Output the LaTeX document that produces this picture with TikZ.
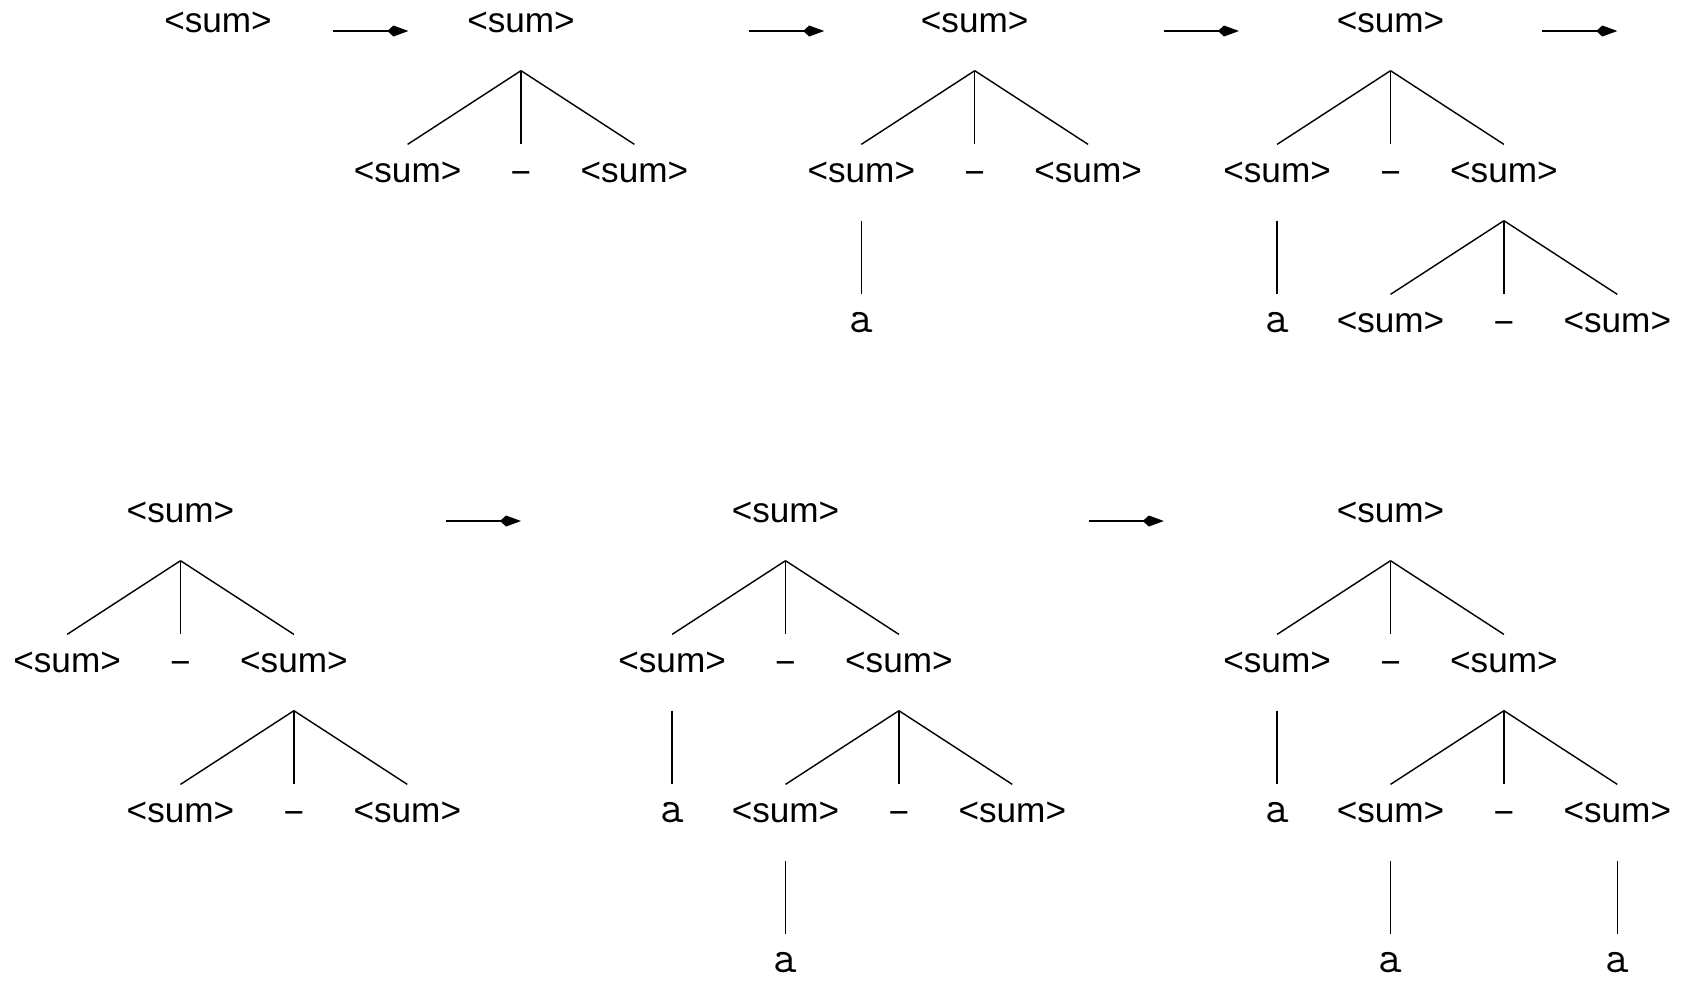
\documentclass[tikz,border=0pt]{standalone}
\usepackage{fontspec}
\setmainfont{Liberation Sans}
\usetikzlibrary{arrows.meta}

\newcommand{\op}{\raisebox{-0.7pt}{−}}

\begin{document}
\begin{tikzpicture}[
  x=0.01cm, y=-0.01cm,
  every node/.style={font=\normalsize},
  sym/.style={inner sep=0pt, text height=10.5pt, text depth=10.8pt, anchor=base},
  term/.style={sym, font=\fontsize{13pt}{15pt}\selectfont\ttfamily},
  branch/.style={line width=0.4pt},
  derive/.style={-{Kite[length=2.1mm, width=1.1mm, inset=0.6mm]},
                 line width=0.4pt}
]
\useasboundingbox (0,0) rectangle (1685,981);

%% ── START SYMBOL ────────────────────────────────────────────────
\node[sym] (s0) at (218,32) {<sum>};

%% ── STEP 1: sum -> sum - sum ────────────────────────────────────
\node[sym] (t1r) at (521,32)   {<sum>};
\node[sym] (t1l) at (407.6,182) {<sum>};
\node[sym] (t1m) at (521,182)  {\op};
\node[sym] (t1x) at (634.4,182) {<sum>};
\draw[branch] (t1r.south) -- (t1l.north);
\draw[branch] (t1r.south) -- (t1m.north);
\draw[branch] (t1r.south) -- (t1x.north);

%% ── STEP 2: left sum -> a ───────────────────────────────────────
\node[sym] (t2r) at (974.7,32)   {<sum>};
\node[sym] (t2l) at (861.3,182)  {<sum>};
\node[sym] (t2m) at (974.7,182)  {\op};
\node[sym] (t2x) at (1088.1,182) {<sum>};
\node[term] (t2la) at (861.3,332) {a};
\draw[branch] (t2r.south) -- (t2l.north);
\draw[branch] (t2r.south) -- (t2m.north);
\draw[branch] (t2r.south) -- (t2x.north);
\draw[branch] (t2l.south) -- (t2la.north);

%% ── STEP 3: right sum -> sum - sum ──────────────────────────────
\node[sym] (t3r) at (1390.5,32)  {<sum>};
\node[sym] (t3l) at (1277.1,182) {<sum>};
\node[sym] (t3m) at (1390.5,182) {\op};
\node[sym] (t3x) at (1503.9,182) {<sum>};
\node[term] (t3la) at (1277.1,332) {a};
\node[sym] (t3xl) at (1390.5,332) {<sum>};
\node[sym] (t3xm) at (1503.9,332) {\op};
\node[sym] (t3xr) at (1617.3,332) {<sum>};
\draw[branch] (t3r.south) -- (t3l.north);
\draw[branch] (t3r.south) -- (t3m.north);
\draw[branch] (t3r.south) -- (t3x.north);
\draw[branch] (t3l.south) -- (t3la.north);
\draw[branch] (t3x.south) -- (t3xl.north);
\draw[branch] (t3x.south) -- (t3xm.north);
\draw[branch] (t3x.south) -- (t3xr.north);

%% ── ALTERNATIVE: right sum expanded first ───────────────────────
\node[sym] (t4r) at (180.5,522)  {<sum>};
\node[sym] (t4l) at (67.1,672)   {<sum>};
\node[sym] (t4m) at (180.5,672)  {\op};
\node[sym] (t4x) at (293.9,672)  {<sum>};
\node[sym] (t4xl) at (180.5,822) {<sum>};
\node[sym] (t4xm) at (293.9,822) {\op};
\node[sym] (t4xr) at (407.3,822) {<sum>};
\draw[branch] (t4r.south) -- (t4l.north);
\draw[branch] (t4r.south) -- (t4m.north);
\draw[branch] (t4r.south) -- (t4x.north);
\draw[branch] (t4x.south) -- (t4xl.north);
\draw[branch] (t4x.south) -- (t4xm.north);
\draw[branch] (t4x.south) -- (t4xr.north);

%% ── two more steps ──────────────────────────────────────────────
\node[sym] (t5r) at (785.5,522)   {<sum>};
\node[sym] (t5l) at (672.1,672)   {<sum>};
\node[sym] (t5m) at (785.5,672)   {\op};
\node[sym] (t5x) at (898.9,672)   {<sum>};
\node[term] (t5la) at (672.1,822) {a};
\node[sym] (t5xl) at (785.5,822)  {<sum>};
\node[sym] (t5xm) at (898.9,822)  {\op};
\node[sym] (t5xr) at (1012.3,822) {<sum>};
\node[term] (t5xla) at (785.5,972) {a};
\draw[branch] (t5r.south) -- (t5l.north);
\draw[branch] (t5r.south) -- (t5m.north);
\draw[branch] (t5r.south) -- (t5x.north);
\draw[branch] (t5l.south) -- (t5la.north);
\draw[branch] (t5x.south) -- (t5xl.north);
\draw[branch] (t5x.south) -- (t5xm.north);
\draw[branch] (t5x.south) -- (t5xr.north);
\draw[branch] (t5xl.south) -- (t5xla.north);

\node[sym] (t6r) at (1390.5,522)  {<sum>};
\node[sym] (t6l) at (1277.1,672)  {<sum>};
\node[sym] (t6m) at (1390.5,672)  {\op};
\node[sym] (t6x) at (1503.9,672)  {<sum>};
\node[term] (t6la) at (1277.1,822) {a};
\node[sym] (t6xl) at (1390.5,822) {<sum>};
\node[sym] (t6xm) at (1503.9,822) {\op};
\node[sym] (t6xr) at (1617.3,822) {<sum>};
\node[term] (t6xla) at (1390.5,972) {a};
\node[term] (t6xra) at (1617.3,972) {a};
\draw[branch] (t6r.south) -- (t6l.north);
\draw[branch] (t6r.south) -- (t6m.north);
\draw[branch] (t6r.south) -- (t6x.north);
\draw[branch] (t6l.south) -- (t6la.north);
\draw[branch] (t6x.south) -- (t6xl.north);
\draw[branch] (t6x.south) -- (t6xm.north);
\draw[branch] (t6x.south) -- (t6xr.north);
\draw[branch] (t6xl.south) -- (t6xla.north);
\draw[branch] (t6xr.south) -- (t6xra.north);

%% ── DERIVATION ARROWS ───────────────────────────────────────────
\coordinate (a1s) at (333,31);    \coordinate (a1e) at (408.4,31);
\coordinate (a2s) at (749,31);    \coordinate (a2e) at (824.2,31);
\coordinate (a3s) at (1164,31);   \coordinate (a3e) at (1239,31);
\coordinate (a4s) at (1542,31);   \coordinate (a4e) at (1617.3,31);
\coordinate (a5s) at (446,521);   \coordinate (a5e) at (521,521);
\coordinate (a6s) at (1088.6,521); \coordinate (a6e) at (1163.8,521);
\draw[derive] (a1s) -- (a1e);
\draw[derive] (a2s) -- (a2e);
\draw[derive] (a3s) -- (a3e);
\draw[derive] (a4s) -- (a4e);
\draw[derive] (a5s) -- (a5e);
\draw[derive] (a6s) -- (a6e);

\end{tikzpicture}
\end{document}
